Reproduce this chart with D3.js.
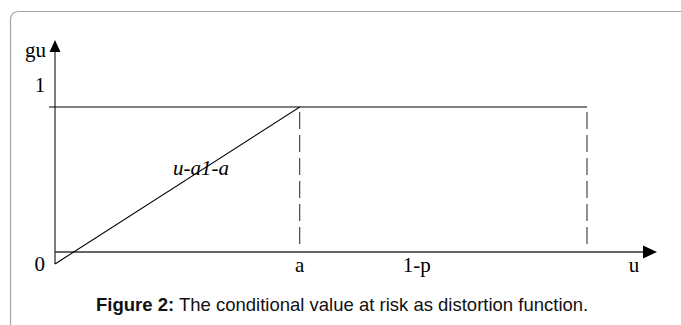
<!DOCTYPE html>
<html>
<head>
<meta charset="utf-8">
<script src="https://cdn.jsdelivr.net/npm/d3@7"></script>
<style>
  body { margin: 0; background: #fff; }
  svg { display: block; }
</style>
</head>
<body>
<div id="chart-area"></div>
<script>
// g(u) for the conditional value at risk: rises linearly to 1 at u = a, then stays at 1
var aValue = 0.46
var uEnd = 1
var gPoints = [[0, 0], [aValue, 1], [uEnd, 1]]
var dashedAt = [aValue, uEnd]
var xTickValues = [aValue, 0.68]
var xTickLabels = ["a", "1-p"]
var yTickValues = [1]
var yTickLabels = ["1"]
var originLabel = "0"
var xAxisLabel = "u"
var yAxisLabel = "gu"
var lineLabel = "u-a1-a"
var captionBold = "Figure 2:"
var captionText = " The conditional value at risk as distortion function."

var width = 681, height = 325

var svg = d3.select("#chart-area")
	.append("svg")
		.attr("width", width)
		.attr("height", height)

// frame around the figure (only top and left edges show)
svg.append("path")
	.attr("d", "M10.5,325 L10.5,20 Q10.5,11.5 19,11.5 L681,11.5")
	.attr("fill", "none")
	.attr("stroke", "#a6a6a6")
	.attr("stroke-width", 1.2)

// scales
var x = d3.scaleLinear().domain([0, 1]).range([55, 587])
var y = d3.scaleLinear().domain([0, 1]).range([264, 107])

var axisY = 252   // horizontal axis sits a little above g = 0
var serif = "'Liberation Serif', 'Times New Roman', serif"

// y axis with arrow
svg.append("line")
	.attr("x1", x(0)).attr("x2", x(0))
	.attr("y1", y(0)).attr("y2", 50)
	.attr("stroke", "#111").attr("stroke-width", 1.1)
svg.append("path")
	.attr("d", "M" + x(0) + ",40 L" + (x(0) + 5.5) + ",52 L" + (x(0) - 5.5) + ",52 Z")
	.attr("fill", "#000")

// x axis with arrow
svg.append("line")
	.attr("x1", x(0)).attr("x2", 645)
	.attr("y1", axisY).attr("y2", axisY)
	.attr("stroke", "#333").attr("stroke-width", 1.4)
svg.append("path")
	.attr("d", "M657," + axisY + " L643," + (axisY - 6.5) + " L643," + (axisY + 6.5) + " Z")
	.attr("fill", "#000")

// level line g = 1 from the axis
svg.append("line")
	.attr("x1", x(0) - 6).attr("x2", x(aValue))
	.attr("y1", y(1)).attr("y2", y(1))
	.attr("stroke", "#000").attr("stroke-width", 1.1)

// the distortion function
var line = d3.line()
	.x(d => x(d[0]))
	.y(d => y(d[1]))
svg.append("path")
	.datum(gPoints)
	.attr("d", line)
	.attr("fill", "none")
	.attr("stroke", "#000")
	.attr("stroke-width", 1.1)

// dashed drop lines
svg.selectAll(".drop")
	.data(dashedAt)
	.enter().append("line")
	.attr("class", "drop")
	.attr("x1", d => x(d)).attr("x2", d => x(d))
	.attr("y1", y(1) + 5).attr("y2", axisY - 4)
	.attr("stroke", "#222")
	.attr("stroke-width", 1)
	.attr("stroke-dasharray", "17,6")

// tick labels
svg.selectAll(".xlab")
	.data(xTickValues)
	.enter().append("text")
	.attr("class", "xlab")
	.attr("x", d => x(d))
	.attr("y", 272)
	.attr("text-anchor", "middle")
	.attr("font-family", serif)
	.attr("font-size", "21px")
	.text((d, i) => xTickLabels[i])

svg.selectAll(".ylab")
	.data(yTickValues)
	.enter().append("text")
	.attr("class", "ylab")
	.attr("x", x(0) - 15)
	.attr("y", d => y(d) - 15)
	.attr("text-anchor", "middle")
	.attr("font-family", serif)
	.attr("font-size", "21px")
	.text((d, i) => yTickLabels[i])

svg.append("text")
	.attr("x", x(0) - 10)
	.attr("y", 271)
	.attr("text-anchor", "end")
	.attr("font-family", serif)
	.attr("font-size", "21px")
	.text(originLabel)

svg.append("text")
	.attr("x", 634)
	.attr("y", 272)
	.attr("text-anchor", "middle")
	.attr("font-family", serif)
	.attr("font-size", "21px")
	.text(xAxisLabel)

svg.append("text")
	.attr("x", 25)
	.attr("y", 57)
	.attr("font-family", serif)
	.attr("font-size", "21px")
	.text(yAxisLabel)

svg.append("text")
	.attr("x", 173)
	.attr("y", 175)
	.attr("font-family", serif)
	.attr("font-style", "italic")
	.attr("font-size", "21px")
	.text(lineLabel)

// caption
var cap = svg.append("text")
	.attr("x", 96)
	.attr("y", 311)
	.attr("font-family", "'Liberation Sans', Arial, sans-serif")
	.attr("font-size", "18.5px")
	.attr("fill", "#111")
cap.append("tspan").attr("font-weight", "bold").text(captionBold)
cap.append("tspan").text(captionText)
</script>
</body>
</html>
